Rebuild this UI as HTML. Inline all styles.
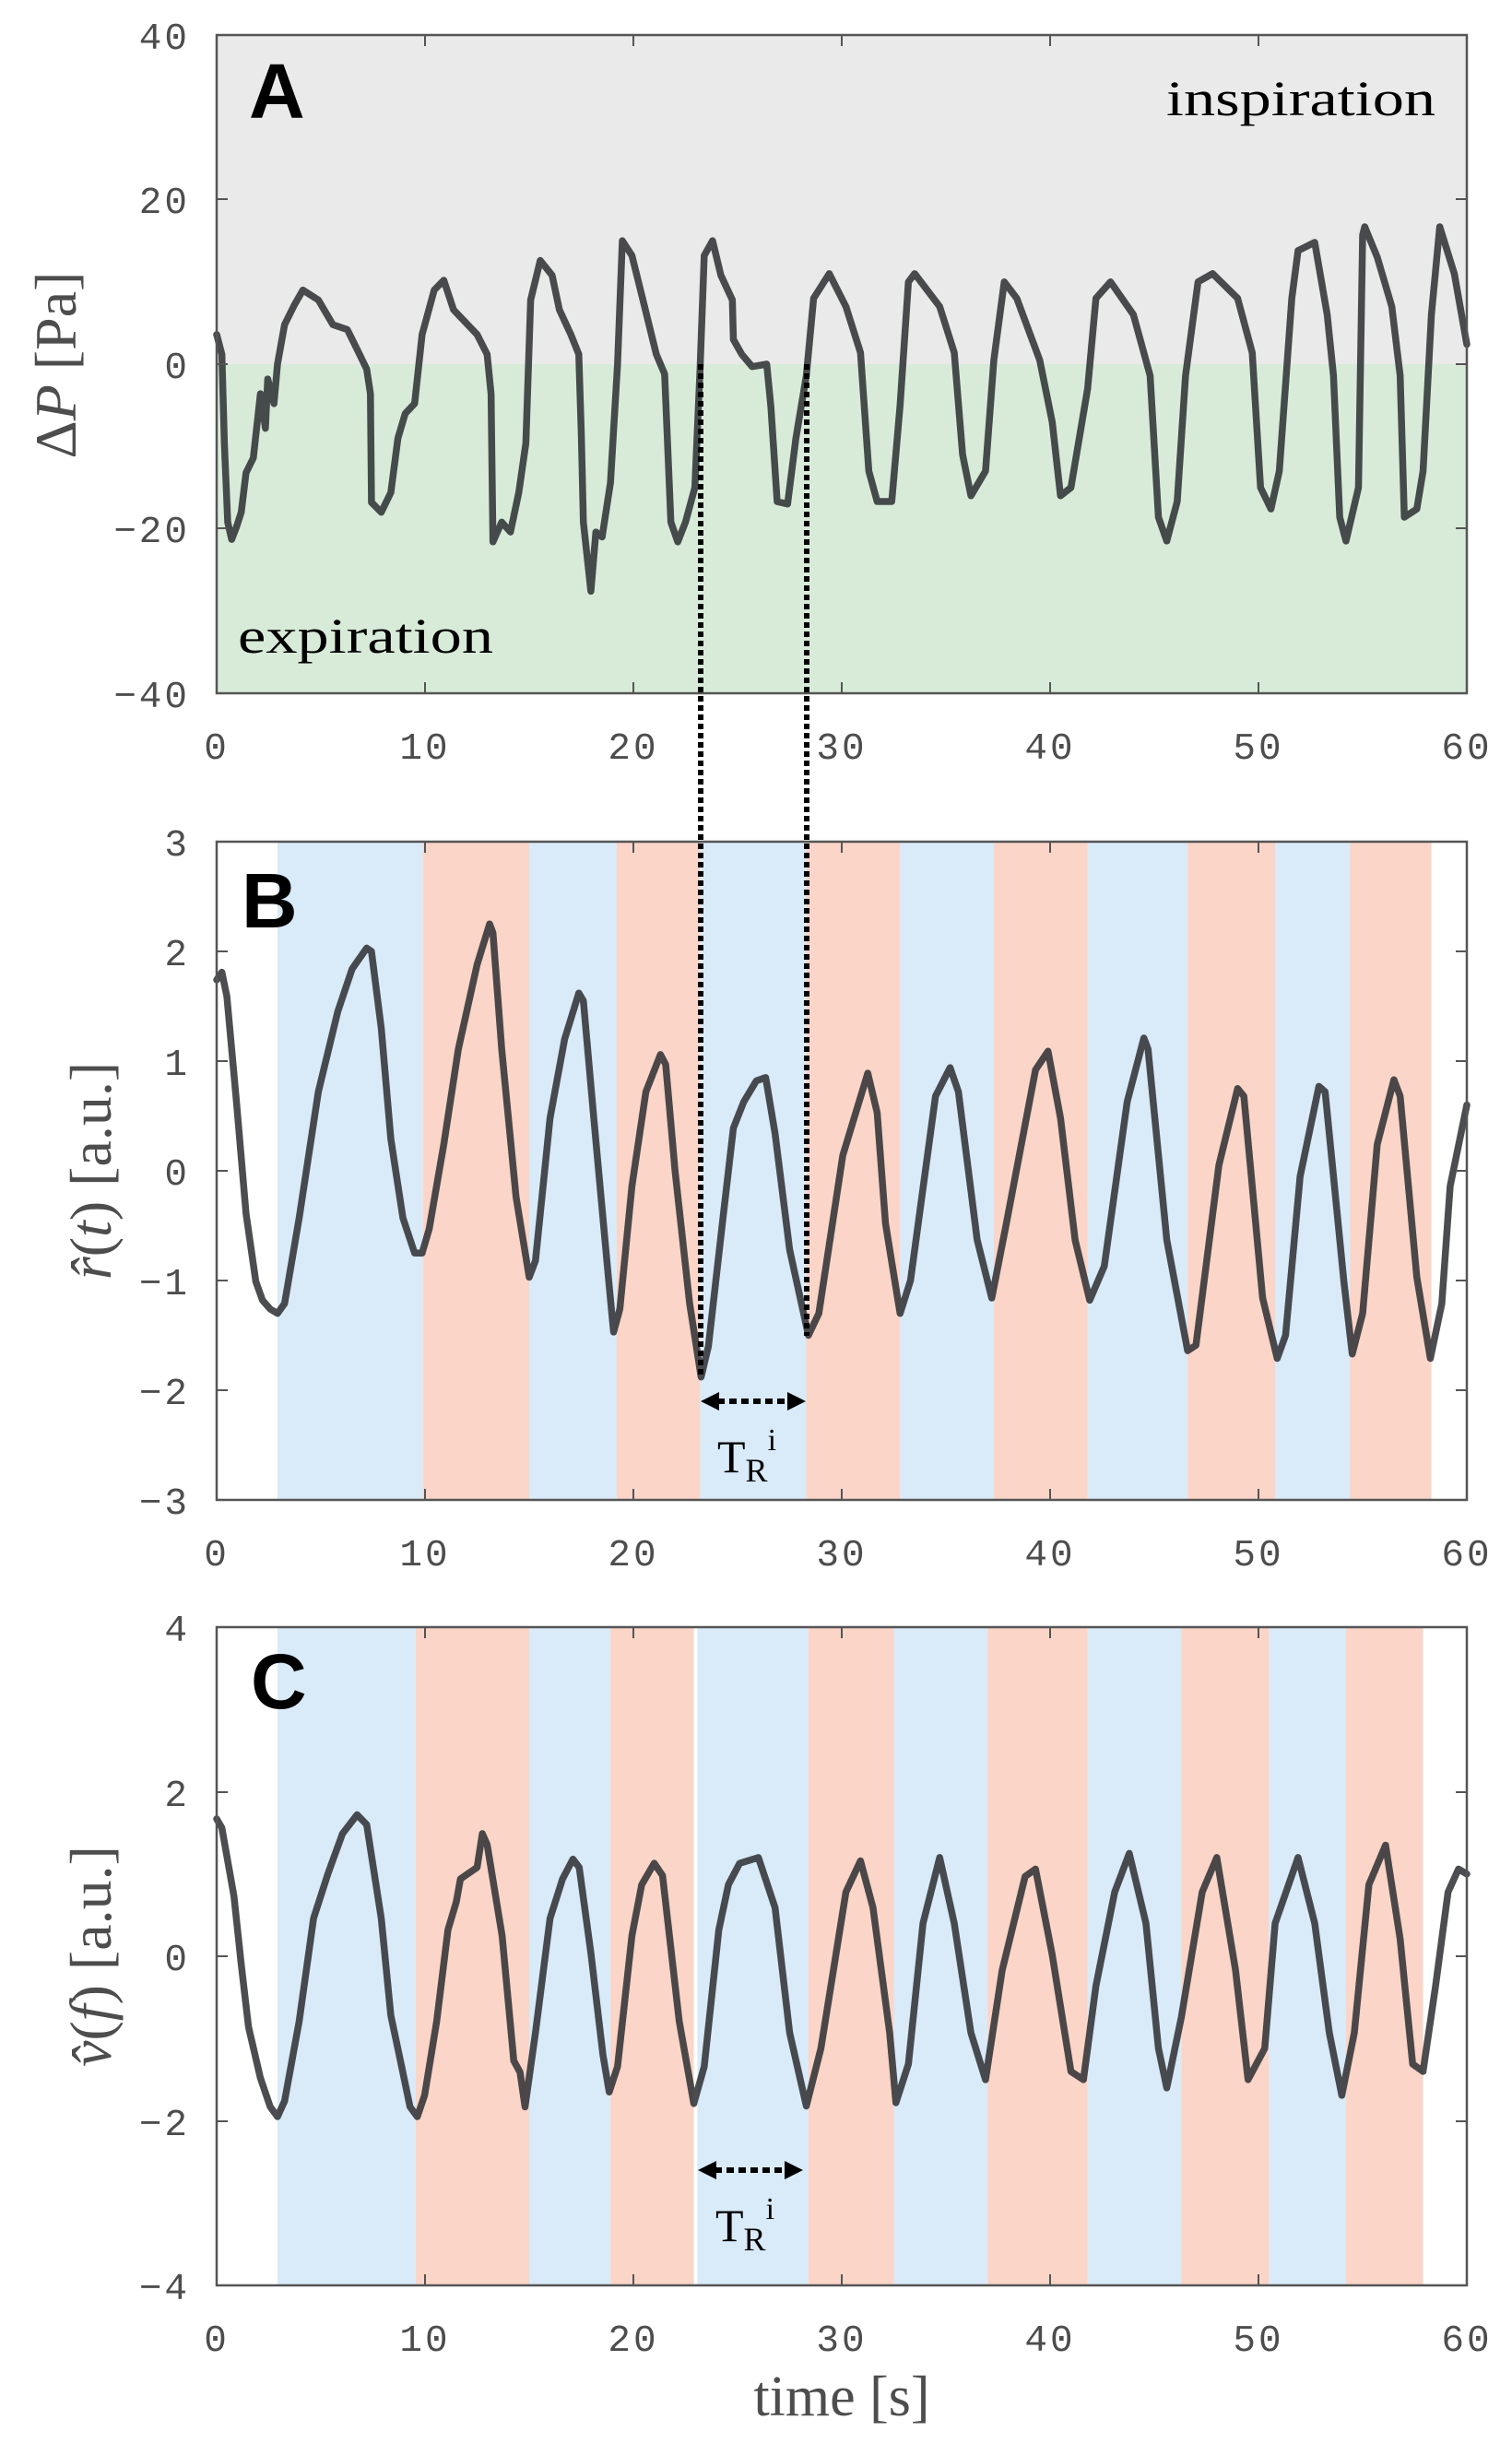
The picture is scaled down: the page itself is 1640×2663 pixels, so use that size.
<!DOCTYPE html>
<html><head><meta charset="utf-8"><style>
body{margin:0;background:#fff}
svg{display:block}
.tk{font-family:"Liberation Mono",monospace;font-size:41px;fill:#4d4d4d;letter-spacing:3px}
.sf{font-family:"Liberation Serif",serif}
.ln{fill:none;stroke:#2b2e31;stroke-opacity:.85;stroke-width:7.5;stroke-linejoin:round;stroke-linecap:round;vector-effect:non-scaling-stroke}
.ax{fill:none;stroke:#555;stroke-width:2.5}
.tick{stroke:#555;stroke-width:2}
.lt{font-family:"Liberation Sans",sans-serif;font-weight:bold;font-size:84px;fill:#000}
</style></head><body>
<svg width="1640" height="2663" viewBox="0 0 1640 2663" xmlns="http://www.w3.org/2000/svg">
<!-- Panel A -->
<rect x="235" y="38" width="1356" height="357" fill="#eaeaea"/>
<rect x="235" y="395" width="1356" height="357" fill="#d8ebd9"/>
<g transform="translate(235,395) scale(22.6,-8.925)">
<polyline class="ln" points="0,3.6 0.25,1.2 0.37,-9.6 0.53,-19.2 0.72,-21.3 0.95,-19.8 1.18,-18 1.41,-13.2 1.76,-11.4 2.1,-3.6 2.34,-7.8 2.45,-1.8 2.75,-4.8 2.92,0 3.26,4.8 3.73,7.2 4.14,9 4.88,7.8 5.58,4.8 6.27,4.2 6.74,1.8 7.2,-0.6 7.38,-3.6 7.43,-16.8 7.9,-18 8.36,-15.6 8.7,-9 9.05,-6 9.5,-4.8 9.86,3.6 10.44,9 10.9,10.2 11.37,6.6 12.5,3.6 12.98,1.2 13.17,-3.6 13.26,-21.6 13.68,-19.2 14.1,-20.4 14.5,-15.6 14.84,-9.6 15.07,7.8 15.53,12.6 16.1,10.8 16.45,6.6 17,3.6 17.38,1.2 17.5,-8.4 17.6,-19.2 17.96,-27.6 18.2,-20.4 18.5,-21 18.9,-14.4 19.24,0 19.47,15 19.93,13.2 20.4,8.4 21.1,1.2 21.5,-1.2 21.8,-19.2 22.13,-21.6 22.5,-19.2 22.95,-15 23.2,-0.6 23.4,13.2 23.8,15 24.2,10.8 24.75,7.8 24.8,3 25.2,1.2 25.7,-0.3 26.4,0 26.6,-5.2 26.9,-16.7 27.4,-17 27.8,-9 28.3,-1.4 28.65,8 29.4,11 30.2,7 30.9,1.4 31.3,-13 31.7,-16.7 32.4,-16.7 32.8,-5 33.2,10 33.5,11 34.7,7 35.4,1.4 35.8,-11 36.2,-16 36.9,-13 37.3,0.5 37.8,10 38.4,8 39.5,0.5 40.1,-7 40.5,-16 41,-15 41.8,-3 42.2,8 42.9,10 44,6 44.8,-1.4 45.2,-18.6 45.6,-21.5 46.1,-16.7 46.5,-1.4 47.1,10 47.8,11 49,8 49.7,1.4 50.1,-15 50.6,-17.6 51,-13 51.6,8 51.9,13.8 52.7,14.8 53.3,6 53.6,-1.4 53.9,-18.6 54.2,-21.5 54.8,-15 55,15.7 55.1,16.7 55.7,13 56.4,7 56.8,-1.4 57,-18.6 57.6,-17.6 57.9,-13 58.3,6 58.7,16.7 59.4,11 60,2.4"/>
</g>
<rect class="ax" x="235" y="38" width="1356" height="714"/>
<g class="tick">
<line x1="461" y1="752" x2="461" y2="740"/><line x1="687" y1="752" x2="687" y2="740"/><line x1="913" y1="752" x2="913" y2="740"/><line x1="1139" y1="752" x2="1139" y2="740"/><line x1="1365" y1="752" x2="1365" y2="740"/>
<line x1="461" y1="38" x2="461" y2="50"/><line x1="687" y1="38" x2="687" y2="50"/><line x1="913" y1="38" x2="913" y2="50"/><line x1="1139" y1="38" x2="1139" y2="50"/><line x1="1365" y1="38" x2="1365" y2="50"/>
<line x1="235" y1="216" x2="247" y2="216"/><line x1="235" y1="395" x2="247" y2="395"/><line x1="235" y1="573" x2="247" y2="573"/>
<line x1="1591" y1="216" x2="1579" y2="216"/><line x1="1591" y1="395" x2="1579" y2="395"/><line x1="1591" y1="573" x2="1579" y2="573"/>
</g>
<g class="tk" text-anchor="end">
<text x="206" y="53">40</text><text x="206" y="231">20</text><text x="206" y="410">0</text><text x="206" y="588">−20</text><text x="206" y="767">−40</text>
</g>
<g class="tk" text-anchor="middle">
<text x="235" y="823">0</text><text x="461" y="823">10</text><text x="687" y="823">20</text><text x="913" y="823">30</text><text x="1139" y="823">40</text><text x="1365" y="823">50</text><text x="1591" y="823">60</text>
</g>
<text class="lt" x="270" y="128">A</text>
<text class="sf" x="1265" y="125" font-size="54" textLength="292" lengthAdjust="spacingAndGlyphs">inspiration</text>
<text class="sf" x="258" y="708" font-size="54" textLength="277" lengthAdjust="spacingAndGlyphs">expiration</text>
<text class="sf" font-size="64" fill="#4d4d4d" text-anchor="middle" transform="translate(82,396) rotate(-90)"><tspan>Δ</tspan><tspan font-style="italic">P</tspan> [Pa]</text>

<!-- Panel B -->
<g transform="translate(235,1270) scale(22.6,-119)">
<g fill="#d9eaf8"><rect x="2.92" y="-3" width="6.98" height="6"/><rect x="15" y="-3" width="4.2" height="6"/><rect x="23.2" y="-3" width="5.1" height="6"/><rect x="32.8" y="-3" width="4.5" height="6"/><rect x="41.8" y="-3" width="4.8" height="6"/><rect x="50.8" y="-3" width="3.6" height="6"/></g>
<g fill="#fad5c8"><rect x="9.9" y="-3" width="5.1" height="6"/><rect x="19.2" y="-3" width="4" height="6"/><rect x="28.3" y="-3" width="4.5" height="6"/><rect x="37.3" y="-3" width="4.5" height="6"/><rect x="46.6" y="-3" width="4.2" height="6"/><rect x="54.4" y="-3" width="3.9" height="6"/></g>
<polyline class="ln" points="0,1.74 0.25,1.81 0.49,1.59 0.95,0.63 1.41,-0.39 1.88,-1.01 2.2,-1.18 2.57,-1.26 2.92,-1.3 3.26,-1.21 3.96,-0.43 4.88,0.72 5.81,1.45 6.5,1.84 7.2,2.03 7.43,2 7.9,1.3 8.36,0.29 8.94,-0.43 9.5,-0.75 9.86,-0.75 10.2,-0.53 10.9,0.24 11.6,1.11 12.5,1.88 13.1,2.25 13.26,2.17 13.68,1.11 14.37,-0.24 15,-0.97 15.3,-0.82 16,0.48 16.7,1.2 17.38,1.62 17.6,1.55 18.1,0.48 18.8,-0.97 19.05,-1.47 19.35,-1.26 19.93,-0.14 20.6,0.72 21.3,1.06 21.55,0.97 22,0 22.7,-1.21 23.25,-1.88 23.6,-1.6 24.3,-0.43 24.8,0.39 25.3,0.63 25.9,0.82 26.35,0.85 26.8,0.34 27.5,-0.72 28.4,-1.5 28.9,-1.3 30.05,0.14 31.25,0.89 31.7,0.53 32.1,-0.48 32.8,-1.3 33.3,-1 34.5,0.68 35.2,0.94 35.6,0.72 36.5,-0.63 37.2,-1.16 37.9,-0.48 39.3,0.92 39.9,1.09 40.5,0.48 41.2,-0.63 41.9,-1.18 42.6,-0.87 43.7,0.63 44.5,1.21 44.7,1.11 45.6,-0.63 46.6,-1.64 47,-1.59 48.1,0.05 49,0.75 49.3,0.68 50.2,-1.16 50.9,-1.71 51.3,-1.5 52,-0.05 52.9,0.77 53.2,0.72 54.1,-1.01 54.5,-1.67 55,-1.3 55.7,0.24 56.5,0.83 56.8,0.68 57.6,-0.97 58.25,-1.71 58.8,-1.21 59.2,-0.14 60,0.6"/>
</g>
<rect class="ax" x="235" y="913" width="1356" height="714"/>
<g class="tick">
<line x1="461" y1="1627" x2="461" y2="1615"/><line x1="687" y1="1627" x2="687" y2="1615"/><line x1="913" y1="1627" x2="913" y2="1615"/><line x1="1139" y1="1627" x2="1139" y2="1615"/><line x1="1365" y1="1627" x2="1365" y2="1615"/>
<line x1="461" y1="913" x2="461" y2="925"/><line x1="687" y1="913" x2="687" y2="925"/><line x1="913" y1="913" x2="913" y2="925"/><line x1="1139" y1="913" x2="1139" y2="925"/><line x1="1365" y1="913" x2="1365" y2="925"/>
<line x1="235" y1="1032" x2="247" y2="1032"/><line x1="235" y1="1151" x2="247" y2="1151"/><line x1="235" y1="1270" x2="247" y2="1270"/><line x1="235" y1="1389" x2="247" y2="1389"/><line x1="235" y1="1508" x2="247" y2="1508"/>
<line x1="1591" y1="1032" x2="1579" y2="1032"/><line x1="1591" y1="1151" x2="1579" y2="1151"/><line x1="1591" y1="1270" x2="1579" y2="1270"/><line x1="1591" y1="1389" x2="1579" y2="1389"/><line x1="1591" y1="1508" x2="1579" y2="1508"/>
</g>
<g class="tk" text-anchor="end">
<text x="206" y="928">3</text><text x="206" y="1047">2</text><text x="206" y="1166">1</text><text x="206" y="1285">0</text><text x="206" y="1404">−1</text><text x="206" y="1523">−2</text><text x="206" y="1642">−3</text>
</g>
<g class="tk" text-anchor="middle">
<text x="235" y="1698">0</text><text x="461" y="1698">10</text><text x="687" y="1698">20</text><text x="913" y="1698">30</text><text x="1139" y="1698">40</text><text x="1365" y="1698">50</text><text x="1591" y="1698">60</text>
</g>
<text class="lt" x="262" y="1006">B</text>
<text class="sf" font-size="64" fill="#4d4d4d" text-anchor="middle" transform="translate(120,1270) rotate(-90)"><tspan font-style="italic">r̂</tspan>(<tspan font-style="italic">t</tspan>) [a.u.]</text>

<!-- Panel C -->
<g transform="translate(235,2122) scale(22.6,-89.25)">
<g fill="#d9eaf8"><rect x="2.92" y="-4" width="6.63" height="8"/><rect x="15" y="-4" width="3.9" height="8"/><rect x="23.07" y="-4" width="5.33" height="8"/><rect x="32.5" y="-4" width="4.5" height="8"/><rect x="41.8" y="-4" width="4.5" height="8"/><rect x="50.5" y="-4" width="3.7" height="8"/></g>
<g fill="#fad5c8"><rect x="9.55" y="-4" width="5.45" height="8"/><rect x="18.9" y="-4" width="4" height="8"/><rect x="28.4" y="-4" width="4.1" height="8"/><rect x="37" y="-4" width="4.8" height="8"/><rect x="46.3" y="-4" width="4.2" height="8"/><rect x="54.2" y="-4" width="3.7" height="8"/></g>
<polyline class="ln" points="0,1.67 0.25,1.56 0.83,0.73 1.18,-0.1 1.53,-0.86 2.1,-1.48 2.57,-1.83 2.92,-1.95 3.26,-1.76 3.96,-0.79 4.65,0.46 5.35,1.01 6.04,1.49 6.74,1.72 7.2,1.6 7.9,0.46 8.36,-0.72 8.82,-1.27 9.28,-1.83 9.63,-1.95 9.98,-1.69 10.56,-0.79 11.1,0.32 11.5,0.66 11.7,0.94 12.5,1.08 12.75,1.49 12.98,1.36 13.7,0.25 14.26,-1.27 14.56,-1.41 14.8,-1.83 15.3,-0.93 16,0.46 16.6,0.94 17.1,1.18 17.4,1.08 17.96,0.04 18.54,-1.2 18.84,-1.65 19.24,-1.34 19.93,0.25 20.4,0.87 21,1.13 21.4,0.98 22.2,-0.79 22.9,-1.79 23.4,-1.34 24.1,0.32 24.56,0.87 25.1,1.13 26,1.2 26.8,0.59 27.5,-0.93 28.3,-1.82 29,-1.12 30.2,0.78 30.9,1.16 31.5,0.59 32.3,-0.93 32.6,-1.78 33.2,-1.31 33.9,0.4 34.7,1.2 35.4,0.4 36.2,-0.93 36.9,-1.5 37.7,-0.17 38.8,0.97 39.3,1.06 40.1,0.02 41,-1.4 41.6,-1.5 42.2,-0.36 43.1,0.78 43.8,1.25 44.6,0.4 45.2,-1.12 45.6,-1.6 46.3,-0.74 47.3,0.78 48,1.2 48.9,-0.17 49.5,-1.5 50.3,-1.12 50.8,0.4 51.9,1.2 52.7,0.4 53.4,-0.93 54,-1.69 54.6,-0.93 55.3,0.87 56.1,1.35 56.8,0.21 57.4,-1.31 57.9,-1.4 58.5,-0.36 59.1,0.78 59.6,1.06 60,1"/>
</g>
<rect class="ax" x="235" y="1765" width="1356" height="714"/>
<g class="tick">
<line x1="461" y1="2479" x2="461" y2="2467"/><line x1="687" y1="2479" x2="687" y2="2467"/><line x1="913" y1="2479" x2="913" y2="2467"/><line x1="1139" y1="2479" x2="1139" y2="2467"/><line x1="1365" y1="2479" x2="1365" y2="2467"/>
<line x1="461" y1="1765" x2="461" y2="1777"/><line x1="687" y1="1765" x2="687" y2="1777"/><line x1="913" y1="1765" x2="913" y2="1777"/><line x1="1139" y1="1765" x2="1139" y2="1777"/><line x1="1365" y1="1765" x2="1365" y2="1777"/>
<line x1="235" y1="1944" x2="247" y2="1944"/><line x1="235" y1="2122" x2="247" y2="2122"/><line x1="235" y1="2301" x2="247" y2="2301"/>
<line x1="1591" y1="1944" x2="1579" y2="1944"/><line x1="1591" y1="2122" x2="1579" y2="2122"/><line x1="1591" y1="2301" x2="1579" y2="2301"/>
</g>
<g class="tk" text-anchor="end">
<text x="206" y="1780">4</text><text x="206" y="1959">2</text><text x="206" y="2137">0</text><text x="206" y="2316">−2</text><text x="206" y="2494">−4</text>
</g>
<g class="tk" text-anchor="middle">
<text x="235" y="2550">0</text><text x="461" y="2550">10</text><text x="687" y="2550">20</text><text x="913" y="2550">30</text><text x="1139" y="2550">40</text><text x="1365" y="2550">50</text><text x="1591" y="2550">60</text>
</g>
<text class="lt" x="272" y="1853">C</text>
<text class="sf" font-size="64" fill="#4d4d4d" text-anchor="middle" transform="translate(120,2122) rotate(-90)"><tspan font-style="italic">v̂</tspan>(<tspan font-style="italic">f</tspan>) [a.u.]</text>
<text class="sf" font-size="62" fill="#4d4d4d" text-anchor="middle" x="913" y="2620">time [s]</text>

<!-- dotted connectors -->
<line x1="760" y1="395" x2="760" y2="1494" stroke="#000" stroke-width="6" stroke-dasharray="6 4"/>
<line x1="875" y1="395" x2="875" y2="1449" stroke="#000" stroke-width="6" stroke-dasharray="6 4"/>

<!-- arrows -->
<line x1="778" y1="1520" x2="856" y2="1520" stroke="#000" stroke-width="6" stroke-dasharray="8 5"/>
<polygon points="760,1520 780,1510 780,1530" fill="#000"/><polygon points="874,1520 854,1510 854,1530" fill="#000"/>
<text class="sf" font-size="50" x="778" y="1597">T<tspan font-size="36" dy="10">R</tspan><tspan font-size="34" dy="-34">i</tspan></text>
<line x1="775" y1="2354" x2="853" y2="2354" stroke="#000" stroke-width="6" stroke-dasharray="8 5"/>
<polygon points="757,2354 777,2344 777,2364" fill="#000"/><polygon points="871,2354 851,2344 851,2364" fill="#000"/>
<text class="sf" font-size="50" x="776" y="2431">T<tspan font-size="36" dy="10">R</tspan><tspan font-size="34" dy="-34">i</tspan></text>
</svg>
</body></html>
